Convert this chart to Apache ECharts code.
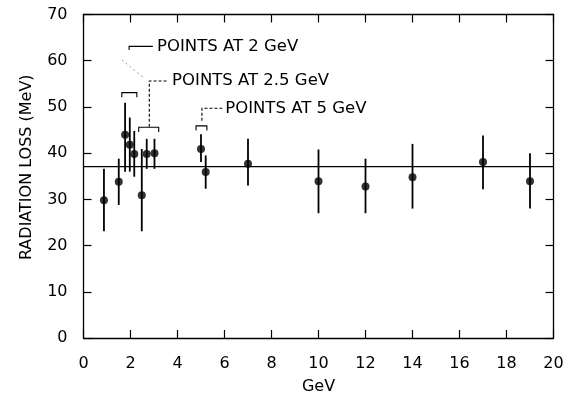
<!DOCTYPE html>
<html>
<head>
<meta charset="utf-8">
<script src="https://cdn.jsdelivr.net/npm/echarts@6/dist/echarts.min.js"></script>
<style>
  html, body { margin: 0; padding: 0; background: #fff; }
  #chart { width: 573px; height: 400px; }
</style>
</head>
<body>
<div id="chart"></div>
<script>
// beam energy (GeV) and measured radiation loss (MeV)
const energy = [0.87, 1.5, 1.77, 1.97, 2.16, 2.48, 2.69, 3.02, 5.0, 5.2, 7.0, 10, 12, 14, 17, 19];
const loss = [29.8, 33.8, 44.0, 41.8, 39.8, 30.9, 39.8, 40.0, 40.9, 35.9, 37.7, 33.9, 32.8, 34.8, 38.1, 33.9];
const errLow = [23.1, 28.8, 36.0, 36.0, 34.9, 23.1, 36.6, 36.6, 38.1, 32.3, 33.0, 27.0, 27.0, 28.0, 32.2, 28.0];
const errHigh = [36.6, 38.8, 50.9, 47.7, 44.8, 40.9, 43.1, 43.1, 44.1, 39.5, 43.1, 40.8, 38.8, 42.0, 43.8, 40.0];
const meanLoss = 37.1;

const xTicks = [0, 2, 4, 6, 8, 10, 12, 14, 16, 18, 20];
const yTicks = [0, 10, 20, 30, 40, 50, 60, 70];

// annotation groups, in data units
const noteText = ['POINTS AT 2 GeV', 'POINTS AT 2.5 GeV', 'POINTS AT 5 GeV'];
const noteAt = [[3.13, 63.1], [3.77, 55.6], [6.03, 49.7]];
const noteLeader = [
  [[1.94, 62.3], [1.94, 63.1], [2.95, 63.1]],
  [[2.8, 45.7], [2.8, 55.6], [3.62, 55.6]],
  [[5.04, 47.0], [5.04, 49.7], [5.9, 49.7]]
];
const noteBracket = [[1.63, 2.27, 53.1], [2.35, 3.2, 45.6], [4.79, 5.25, 45.9]];
const noteDots = [[1.63, 60.2], [2.54, 56.4]];

const ink = '#000';
const font = 'DejaVu Sans';

const chart = echarts.init(document.getElementById('chart'));

const axisCommon = {
  type: 'value',
  axisLine: { show: true, onZero: false, lineStyle: { color: ink, width: 1.3 } },
  axisTick: { show: true, inside: true, length: 8, lineStyle: { color: ink, width: 1.2 } },
  splitLine: { show: false }
};

chart.setOption({
  animation: false,
  grid: { left: 83.5, right: 19.5, top: 14.5, bottom: 59.3 },
  xAxis: [
    Object.assign({}, axisCommon, {
      min: xTicks[0], max: xTicks[xTicks.length - 1], interval: 2,
      name: 'GeV', nameLocation: 'middle', nameGap: 41,
      nameTextStyle: { color: ink, fontSize: 16, fontFamily: font },
      axisLabel: { color: ink, fontSize: 16, fontFamily: font, margin: 18 }
    }),
    Object.assign({}, axisCommon, {
      position: 'top', min: 0, max: 20, interval: 2,
      axisLabel: { show: false }
    })
  ],
  yAxis: [
    Object.assign({}, axisCommon, {
      min: yTicks[0], max: yTicks[yTicks.length - 1], interval: 10,
      name: 'RADIATION LOSS (MeV)', nameLocation: 'middle', nameGap: 49,
      nameTextStyle: { color: ink, fontSize: 16, fontFamily: font, padding: [0, 0, 0, 18] },
      axisLabel: { color: ink, fontSize: 16, fontFamily: font, margin: 16 }
    }),
    Object.assign({}, axisCommon, {
      position: 'right', min: 0, max: 70, interval: 10,
      axisLabel: { show: false }
    })
  ],
  series: [
    {
      type: 'line',
      data: [[0, meanLoss], [20, meanLoss]],
      symbol: 'none',
      lineStyle: { color: ink, width: 1.3 },
      silent: true,
      z: 1
    },
    {
      type: 'custom',
      data: energy.map((e, i) => [e, errLow[i], errHigh[i]]),
      renderItem: function (params, api) {
        const lo = api.coord([api.value(0), api.value(1)]);
        const hi = api.coord([api.value(0), api.value(2)]);
        return {
          type: 'line',
          shape: { x1: lo[0], y1: lo[1], x2: hi[0], y2: hi[1] },
          style: { stroke: ink, lineWidth: 1.8 }
        };
      },
      z: 2
    },
    {
      type: 'scatter',
      data: energy.map((e, i) => [e, loss[i]]),
      symbol: 'circle',
      symbolSize: 8,
      itemStyle: { color: ink },
      z: 3
    },
    {
      type: 'custom',
      data: noteText.map((t, i) => [i]),
      renderItem: function (params, api) {
        const i = params.dataIndex;
        const b = noteBracket[i];
        const drop = 1.0;
        const bracket = [
          api.coord([b[0], b[2] - drop]), api.coord([b[0], b[2]]),
          api.coord([b[1], b[2]]), api.coord([b[1], b[2] - drop])
        ];
        const leader = noteLeader[i].map(p => api.coord(p));
        const at = api.coord(noteAt[i]);
        const children = [
          { type: 'polyline', shape: { points: bracket }, style: { stroke: ink, lineWidth: 1.1, fill: null } },
          { type: 'polyline', shape: { points: leader },
            style: { stroke: ink, lineWidth: 1.1, fill: null, lineDash: i === 0 ? null : [3, 2] } },
          { type: 'text', x: at[0], y: at[1],
            style: { text: noteText[i], fill: ink, font: '16.5px "' + font + '"', textAlign: 'left', textVerticalAlign: 'middle' } }
        ];
        if (i === 0) {
          const d0 = api.coord(noteDots[0]);
          const d1 = api.coord(noteDots[1]);
          children.push({ type: 'line', shape: { x1: d0[0], y1: d0[1], x2: d1[0], y2: d1[1] },
            style: { stroke: '#999', lineWidth: 1, lineDash: [2, 3] } });
        }
        return { type: 'group', children: children };
      },
      silent: true,
      z: 4
    }
  ]
});
</script>
</body>
</html>
